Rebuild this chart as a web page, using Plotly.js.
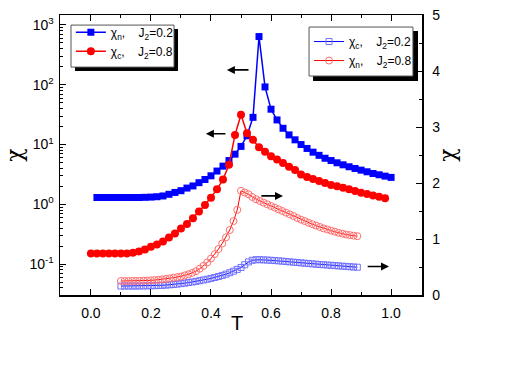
<!DOCTYPE html>
<html>
<head>
<meta charset="utf-8">
<script src="https://cdn.plot.ly/plotly-3.0.1.min.js"></script>
<style>
html,body{margin:0;padding:0;background:#fff;}
#graph{width:517px;height:383px;}
</style>
</head>
<body>
<div id="graph"></div>
<script>
// filled symbols, left (log) axis
let tN02 = [0.02,0.04,0.06,0.08,0.10,0.12,0.14,0.16,0.18,0.20,0.22,0.24,0.26,0.28,0.30,0.32,0.34,0.36,0.38,0.40,
0.42,0.44,0.46,0.48,0.50,0.52,0.54,0.56,0.58,0.60,0.62,0.64,0.66,0.68,0.70,0.72,0.74,0.76,0.78,0.80,
0.82,0.84,0.86,0.88,0.90,0.92,0.94,0.96,0.98,1.00];
let chiN02 = [1.30,1.30,1.30,1.30,1.30,1.30,1.30,1.30,1.31,1.32,1.34,1.38,1.47,1.58,1.69,1.87,2.03,2.30,2.60,3.00,
3.60,4.35,5.40,6.90,9.30,14.0,28.5,640,92,39,25.8,18.7,14.5,12.0,10.0,8.6,7.45,6.6,5.9,5.4,
4.95,4.58,4.25,3.98,3.73,3.50,3.28,3.12,2.96,2.82];

let tC08 = [0.00,0.02,0.04,0.06,0.08,0.10,0.12,0.14,0.16,0.18,0.20,0.22,0.24,0.26,0.28,0.30,0.32,0.34,0.36,0.38,
0.40,0.42,0.44,0.46,0.48,0.50,0.52,0.54,0.56,0.58,0.60,0.62,0.64,0.66,0.68,0.70,0.72,0.74,0.76,0.78,
0.80,0.82,0.84,0.86,0.88,0.90,0.92,0.94,0.96,0.98];
let chiC08 = [0.151,0.151,0.151,0.151,0.151,0.151,0.151,0.155,0.163,0.175,0.195,0.213,0.239,0.278,0.325,0.393,0.47,0.585,0.755,0.975,
1.29,1.78,2.6,4.6,14.5,31.6,15.4,12.0,9.0,7.6,6.4,5.6,4.9,4.25,3.75,3.15,2.87,2.66,2.46,2.27,
2.11,2.00,1.90,1.78,1.67,1.56,1.49,1.41,1.34,1.26];

// open symbols, right (linear) axis
let tOpen = [0.1000,0.1125,0.1250,0.1375,0.1500,0.1625,0.1750,0.1875,0.2000,0.2125,0.2250,0.2375,0.2500,0.2625,0.2750,0.2875,
0.3000,0.3125,0.3250,0.3375,0.3500,0.3625,0.3750,0.3875,0.4000,0.4125,0.4250,0.4375,0.4500,0.4625,0.4750,0.4875,
0.5000,0.5125,0.5250,0.5375,0.5500,0.5625,0.5750,0.5875,0.6000,0.6125,0.6250,0.6375,0.6500,0.6625,0.6750,0.6875,
0.7000,0.7125,0.7250,0.7375,0.7500,0.7625,0.7750,0.7875,0.8000,0.8125,0.8250,0.8375,0.8500,0.8625,0.8750,0.8875];
let chiC02 = [0.160,0.160,0.160,0.160,0.160,0.161,0.162,0.163,0.165,0.167,0.170,0.173,0.177,0.182,0.188,0.195,
0.203,0.212,0.222,0.232,0.243,0.255,0.268,0.282,0.297,0.313,0.330,0.350,0.372,0.397,0.425,0.457,
0.492,0.540,0.590,0.620,0.630,0.630,0.627,0.624,0.620,0.615,0.610,0.604,0.598,0.592,0.586,0.580,
0.574,0.568,0.562,0.556,0.550,0.545,0.540,0.535,0.530,0.525,0.520,0.515,0.510,0.505,0.500,0.496];
let chiN08 = [0.250,0.250,0.250,0.251,0.252,0.253,0.255,0.258,0.262,0.266,0.272,0.279,0.287,0.297,0.309,0.320,
0.330,0.350,0.370,0.395,0.425,0.470,0.520,0.580,0.650,0.730,0.820,0.920,1.030,1.160,1.320,1.520,
1.860,1.830,1.800,1.750,1.710,1.680,1.650,1.620,1.590,1.560,1.530,1.500,1.470,1.440,1.410,1.375,
1.345,1.320,1.290,1.265,1.240,1.215,1.190,1.170,1.150,1.130,1.110,1.095,1.080,1.070,1.060,1.050];

let logTicks = [0.1,1,10,100,1000];
let logLabels = ['10<sup>-1</sup>','10<sup>0</sup>','10<sup>1</sup>','10<sup>2</sup>','10<sup>3</sup>'];

let minorLog = [];
for(let d=0.01;d<2000;d*=10){
    for(let k=2;k<10;k++){
        minorLog.push(d*k);
    }
}

const font = 'Liberation Sans, Arial, sans-serif';
const sp = '&nbsp;&nbsp;&nbsp;&nbsp;';

let traces = [
{
x:tN02, y:chiN02, mode:'lines+markers',
name:'χ<sub>n</sub>,'+sp+'J<sub>2</sub>=0.2',
line:{color:'#0000ff',width:1.5},
marker:{symbol:'square',size:7,color:'#0000ff'},
legend:'legend'
},
{
x:tC08, y:chiC08, mode:'lines+markers',
name:'χ<sub>c</sub>,'+sp+'J<sub>2</sub>=0.8',
line:{color:'#ff0000',width:1.5},
marker:{symbol:'circle',size:8,color:'#ff0000'},
legend:'legend'
},
{
x:tOpen, y:chiC02, yaxis:'y2', mode:'lines+markers',
name:'χ<sub>c</sub>,'+sp+'J<sub>2</sub>=0.2',
line:{color:'#0000ff',width:1},
marker:{symbol:'square-open',size:6,color:'#6f6fff',line:{width:1}},
legend:'legend2'
},
{
x:tOpen, y:chiN08, yaxis:'y2', mode:'lines+markers',
name:'χ<sub>n</sub>,'+sp+'J<sub>2</sub>=0.8',
line:{color:'#ff0000',width:1},
marker:{symbol:'circle-open',size:7,color:'#ff6f6f',line:{width:1}},
legend:'legend2'
}
];

function arrow(x,y,ax,ay){
    return {x:x,y:y,ax:ax,ay:ay,xref:'x',yref:'y2',axref:'x',ayref:'y2',
        text:'',showarrow:true,arrowhead:2,arrowsize:1,arrowwidth:1.6,arrowcolor:'#000'};
}

function box(x0,x1,y0,y1,fill,lw){
    return {type:'rect',xref:'paper',yref:'paper',x0:x0,x1:x1,y0:y0,y1:y1,
        fillcolor:fill,line:{color:'#555',width:lw}};
}

let layout = {
width:517, height:383,
margin:{l:60,r:95,t:15,b:88},
paper_bgcolor:'#fff', plot_bgcolor:'#fff',
font:{family:font,size:14,color:'#000'},
showlegend:true,
xaxis:{
    range:[-0.103,1.103],
    tickvals:[0,0.2,0.4,0.6,0.8,1.0],
    ticktext:['0.0','0.2','0.4','0.6','0.8','1.0'],
    ticks:'inside', ticklen:6, tickwidth:1, tickcolor:'#000',
    minor:{tickvals:[0.1,0.3,0.5,0.7,0.9],ticks:'inside',ticklen:3,tickcolor:'#000'},
    showline:true, linecolor:'#000', linewidth:1.5, mirror:'ticks',
    showgrid:false, zeroline:false,
    ticklabelstandoff:5
},
yaxis:{
    type:'log',
    range:[-1.517,3.167],
    tickmode:'array', tickvals:logTicks, ticktext:logLabels,
    ticks:'inside', ticklen:6, tickcolor:'#000',
    minor:{tickmode:'array',tickvals:minorLog,ticks:'inside',ticklen:3,tickcolor:'#000'},
    showline:true, linecolor:'#000', linewidth:1.5,
    showgrid:false, zeroline:false,
    ticklabelstandoff:2,
    title:{text:'χ',font:{family:'DejaVu Serif',size:22},standoff:0}
},
yaxis2:{
    overlaying:'y', side:'right',
    range:[0,5], dtick:1,
    ticks:'inside', ticklen:6, tickcolor:'#000',
    minor:{dtick:0.5,ticks:'inside',ticklen:3,tickcolor:'#000'},
    showline:true, linecolor:'#000', linewidth:1.5,
    showgrid:false, zeroline:false,
    ticklabelstandoff:6,
    title:{text:'χ',font:{family:'DejaVu Serif',size:22},standoff:0}
},
// legends are transparent; their framed boxes and shadows are shapes below
legend:{
    x:0.03, y:0.99, xanchor:'left', yanchor:'top',
    bgcolor:'rgba(0,0,0,0)', borderwidth:0,
    font:{size:12}, itemwidth:30, tracegroupgap:0
},
legend2:{
    x:0.688, y:0.957, xanchor:'left', yanchor:'top',
    bgcolor:'rgba(0,0,0,0)', borderwidth:0,
    font:{size:12}, itemwidth:30, tracegroupgap:0
},
shapes:[
    box(0.0414,0.326,0.800,0.950,'#000',0),
    box(0.0304,0.315,0.814,0.964,'#fff',1),
    box(0.699,0.989,0.764,0.943,'#000',0),
    box(0.688,0.975,0.782,0.957,'#fff',1)
],
annotations:[
    arrow(0.453,4.02,0.53,4.02),
    arrow(0.383,2.88,0.453,2.88),
    arrow(0.64,1.77,0.563,1.77),
    arrow(0.993,0.51,0.917,0.51),
    {text:'T',xref:'paper',yref:'paper',x:0.489,y:-0.1,xanchor:'center',yanchor:'middle',
     showarrow:false,font:{size:20}}
]
};

Plotly.newPlot('graph',traces,layout,{displayModeBar:false,staticPlot:true});
</script>
</body>
</html>
